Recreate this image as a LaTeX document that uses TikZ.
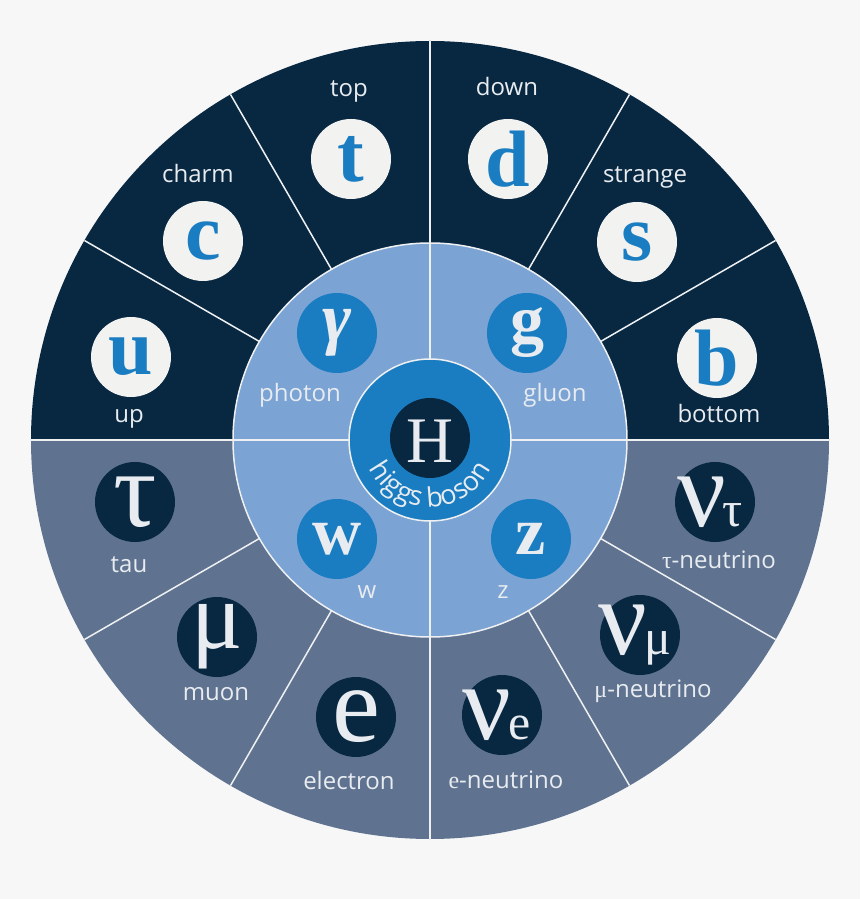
\documentclass[tikz,border=0pt]{standalone}
\usepackage{fontspec}
\setmainfont{Open Sans}
\newfontfamily\symfont{Liberation Serif}
\usetikzlibrary{decorations.text}
\definecolor{bgc}{HTML}{F7F7F7}
\definecolor{navy}{HTML}{082842}
\definecolor{slate}{HTML}{5F7390}
\definecolor{midblue}{HTML}{7BA3D4}
\definecolor{brightblue}{HTML}{1A7DC1}
\definecolor{pale}{HTML}{F2F2F0}
\definecolor{labelc}{HTML}{E8ECF0}
\definecolor{linec}{HTML}{EEF0F2}
\newcommand\fsz[1]{\fontsize{#1}{#1}\selectfont}
\begin{document}
\begin{tikzpicture}[x=1pt,y=1pt,
  disc/.style={circle, minimum size=80pt, inner sep=0pt},
  quark/.style={disc, fill=pale},
  boson/.style={disc, fill=brightblue},
  lepton/.style={disc, fill=navy},
  qsym/.style={inner sep=0pt, text=brightblue, font=\symfont\bfseries\fsz{80}},
  bsym/.style={inner sep=0pt, text=labelc, font=\symfont\bfseries\fsz{68}},
  lsym/.style={inner sep=0pt, text=labelc, font=\symfont\fsz{108}},
  lbl/.style={anchor=base, inner sep=0pt, text=labelc, font=\fsz{24}},
  spoke/.style={draw=linec, line width=1.5pt}]
\useasboundingbox (-430,-459) rectangle (430,440);
\fill[bgc] (-430,-459) rectangle (430,440);
% outer ring
\fill[navy] (399,0) arc (0:180:399) -- cycle;
\fill[slate] (-399,0) arc (180:360:399) -- cycle;
\foreach \a in {30,60,90,120,150,210,240,270,300,330}
  \draw[spoke] (\a:197) -- (\a:399);
\draw[spoke] (-399,0) -- (399,0);
% middle ring
\draw[spoke, fill=midblue] (0,0) circle (197);
\draw[spoke] (-197,0) -- (-81,0);
\draw[spoke] (81,0) -- (197,0);
\draw[spoke] (0,81) -- (0,197);
\draw[spoke] (0,-81) -- (0,-197);
% inner
\draw[spoke, fill=brightblue] (0,0) circle (81);
\node[disc, fill=navy] (hc) at (0,2) {};
\node[inner sep=0pt, text=labelc, font=\symfont\fsz{65}] (hs) at (0,-1.5) {H};
\path[font=\fsz{27}, decorate, decoration={text along path, text={|\fsz{27}|higgs boson}, text align=center, text color=labelc}]
  (200:67) arc (200:340:67);
% quarks
\node[quark] (t) at (-79,281) {};
\node[qsym] (ts) at (t.center) {t};
\node[lbl] (tl) at (-81,343) {top};
\node[quark] (c) at (-227,199) {};
\node[qsym] (cs) at (c.center) {c};
\node[lbl] (cl) at (-232,257) {charm};
\node[quark] (u) at (-299,83) {};
\node[qsym] (us) at (u.center) {u};
\node[lbl] (ul) at (-301,17) {up};
\node[quark] (d) at (78,281) {};
\node[qsym] (ds) at (d.center) {d};
\node[lbl] (dl) at (77,344) {down};
\node[quark] (s) at (207,198) {};
\node[qsym] (ss) at (s.center) {s};
\node[lbl] (sl) at (215,257) {strange};
\node[quark] (b) at (287,82) {};
\node[qsym] (bs) at (b.center) {b};
\node[lbl] (bl) at (289,17) {bottom};
% bosons
\node[boson] (ga) at (-93,107) {};
\node[bsym, font=\symfont\bfseries\itshape\fsz{70}] (gas) at (ga.center) {γ};
\node[lbl] (gal) at (-130,38) {photon};
\node[boson] (g) at (97,107) {};
\node[bsym] (gs) at (g.center) {g};
\node[lbl] (gl) at (125,38) {gluon};
\node[boson] (w) at (-93,-99) {};
\node[bsym] (ws) at (w.center) {w};
\node[lbl] (wl) at (-63,-158) {w};
\node[boson] (z) at (101,-99) {};
\node[bsym] (zs) at (z.center) {z};
\node[lbl] (zl) at (73,-158) {z};
% leptons
\node[lepton] (ta) at (-295,-62) {};
\node[lsym] (tas) at (ta.center) {τ};
\node[lbl] (tal) at (-301,-132) {tau};
\node[lepton] (mu) at (-213,-197) {};
\node[lsym, font=\symfont\fsz{96}] (mus) at (mu.center) {μ};
\node[lbl] (mul) at (-214,-260) {muon};
\node[lepton] (e) at (-74,-277) {};
\node[lsym] (es) at (e.center) {e};
\node[lbl] (el) at (-81,-349) {electron};
\node[lepton] (nt) at (285,-62) {};
\node[lsym, xshift=-5pt] (nts) at (nt.center) {ν\kern-3pt\fsz{50}τ};
\node[lbl] (ntl) at (289,-128) {{\symfont τ}-neutrino};
\node[lepton] (nm) at (210,-195) {};
\node[lsym, xshift=-5pt] (nms) at (nm.center) {ν\kern-3pt\fsz{50}μ};
\node[lbl] (nml) at (223,-257) {{\symfont μ}-neutrino};
\node[lepton] (ne) at (72,-275) {};
\node[lsym, xshift=-5pt] (nes) at (ne.center) {ν\kern-3pt\fsz{50}e};
\node[lbl] (nel) at (76,-348) {{\symfont e}-neutrino};
\end{tikzpicture}
\end{document}
